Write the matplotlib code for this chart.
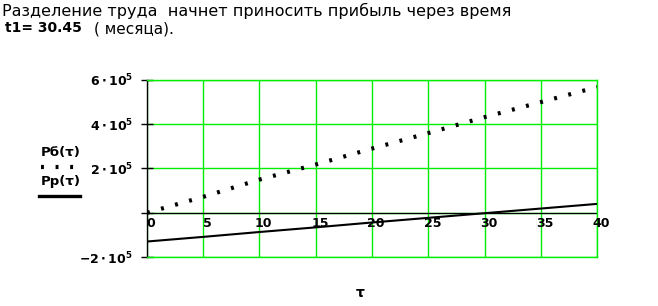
import numpy as np
import matplotlib.pyplot as plt
from matplotlib.lines import Line2D

# --------------------------------------------------
# Data
# --------------------------------------------------

tau = [0, 5, 10, 15, 20, 25, 30, 35, 40]
p_b = [0, 72e3, 150e3, 218e3, 290e3, 360e3, 432e3, 500e3, 568e3]
p_r = [-130e3, -109e3, -87e3, -66e3, -44e3, -23e3, -2e3, 19e3, 40e3]

x_ticks = [0, 5, 10, 15, 20, 25, 30, 35, 40]
y_ticks = [-2e5, 0, 2e5, 4e5, 6e5]
y_tick_labels = [r"$\mathbf{-2\cdot10^{5}}$", "", r"$\mathbf{2\cdot10^{5}}$",
                 r"$\mathbf{4\cdot10^{5}}$", r"$\mathbf{6\cdot10^{5}}$"]

title_line1 = "Разделение труда  начнет приносить прибыль через время"
title_bold = "t1= 30.45"
title_rest = "( месяца)."

grid_green = "#00ee00"

# --------------------------------------------------
# Figure
# --------------------------------------------------

fig = plt.figure(figsize=(6.58, 3.06), dpi=100)
ax = fig.add_axes([0.2234, 0.1601, 0.6839, 0.5785])

ax.set_xlim(0, 40)
ax.set_ylim(-2e5, 6e5)

ax.set_xticks(x_ticks)
ax.set_yticks(y_ticks)
ax.set_xticklabels([])
ax.set_yticklabels(y_tick_labels, fontsize=9)

ax.tick_params(axis="x", length=0)
ax.tick_params(axis="y", direction="inout", length=8, width=1, pad=6)

ax.grid(True, color=grid_green, linewidth=1.0)
ax.set_axisbelow(True)

for side in ["top", "right", "bottom"]:
    ax.spines[side].set_color(grid_green)
    ax.spines[side].set_linewidth(1.0)
ax.spines["left"].set_color("black")
ax.spines["left"].set_linewidth(1)

ax.axhline(0, color="black", linewidth=0.9, zorder=2)

ax.plot(tau, p_b, color="black", linewidth=3, dashes=(0.7, 2.8), zorder=3)
ax.plot(tau, p_r, color="black", linewidth=1.5, zorder=3)

for t in x_ticks:
    ax.annotate(str(t), xy=(t, 0), xytext=(3, -3), textcoords="offset points",
                ha="center", va="top", fontsize=9, fontweight="bold")

# --------------------------------------------------
# Texts and line keys
# --------------------------------------------------

fig.text(0.003, 0.99, title_line1, fontsize=11.5, va="top", ha="left")
fig.text(0.008, 0.93, title_bold, fontsize=10, fontweight="bold", va="top", ha="left")
fig.text(0.143, 0.93, title_rest, fontsize=11, va="top", ha="left")

fig.text(0.092, 0.503, "Pб(τ)", fontsize=9.5, fontweight="bold", ha="center", va="center")
fig.text(0.092, 0.408, "Pр(τ)", fontsize=9.5, fontweight="bold", ha="center", va="center")
fig.add_artist(Line2D([0.062, 0.118], [0.455, 0.455], color="black",
                      linewidth=3, dashes=(0.7, 2.8)))
fig.add_artist(Line2D([0.059, 0.121], [0.359, 0.359], color="black", linewidth=2.4))

fig.text(0.548, 0.042, "τ", fontsize=10, fontweight="bold", ha="center", va="center")

fig.savefig("out.png", dpi=100)
